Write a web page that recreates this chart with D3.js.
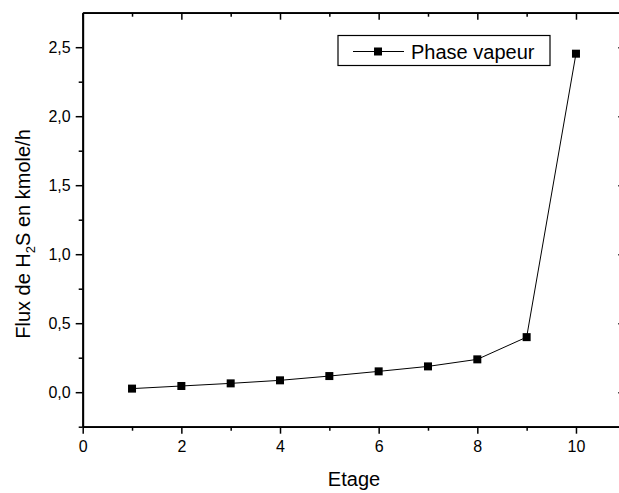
<!DOCTYPE html>
<html>
<head>
<meta charset="utf-8">
<script src="https://cdn.jsdelivr.net/npm/d3@7"></script>
<style>
  html, body { margin: 0; padding: 0; background: #fff; }
  svg { display: block; }
  text { font-family: Arial, "Liberation Sans", sans-serif; fill: #000; }
</style>
</head>
<body>
<svg id="chart" width="619" height="493"></svg>
<script>
// Data
const etage = [1, 2, 3, 4, 5, 6, 7, 8, 9, 10];
const flux = [0.026, 0.045, 0.064, 0.086, 0.117, 0.151, 0.187, 0.238, 0.399, 2.453];
const xTicks = [0, 2, 4, 6, 8, 10];
const xMinor = [1, 3, 5, 7, 9, 11];
const yTicks = [0, 0.5, 1.0, 1.5, 2.0, 2.5];
const yMinor = [-0.25, 0.25, 0.75, 1.25, 1.75, 2.25];
const seriesName = "Phase vapeur";
const xTitle = "Etage";

const svg = d3.select("#chart");
const L = 82.7, R = 625.3, T = 12.7, B = 426.7;
const x = d3.scaleLinear().domain([0, 11]).range([L, R]);
const y = d3.scaleLinear().domain([-0.25, 2.75]).range([B, T]);
const fmt = d => d3.format(".1f")(d).replace(".", ",");

const g = svg.append("g");
const axW = 1.8;
const tickFont = 16;

function styleAxis(sel) {
  sel.select(".domain").attr("stroke", "#000").attr("stroke-width", axW);
  sel.selectAll(".tick line").attr("stroke", "#000").attr("stroke-width", 1.5);
}

// bottom axis (major, outward)
g.append("g").attr("transform", `translate(0,${B})`)
  .call(d3.axisBottom(x).tickValues(xTicks).tickFormat(d3.format("d")).tickSizeInner(7).tickSizeOuter(0).tickPadding(7))
  .call(styleAxis)
  .call(s => s.selectAll("text").attr("font-size", tickFont).attr("font-family", "Arial, 'Liberation Sans', sans-serif"));
g.append("g").attr("transform", `translate(0,${B})`)
  .call(d3.axisBottom(x).tickValues(xMinor).tickFormat("").tickSizeInner(4).tickSizeOuter(0))
  .call(styleAxis);

// top axis (inward)
g.append("g").attr("transform", `translate(0,${T})`)
  .call(d3.axisBottom(x).tickValues(xTicks).tickFormat("").tickSizeInner(7).tickSizeOuter(0))
  .call(styleAxis);
g.append("g").attr("transform", `translate(0,${T})`)
  .call(d3.axisBottom(x).tickValues(xMinor).tickFormat("").tickSizeInner(4).tickSizeOuter(0))
  .call(styleAxis);

// left axis (outward)
g.append("g").attr("transform", `translate(${L},0)`)
  .call(d3.axisLeft(y).tickValues(yTicks).tickFormat(fmt).tickSizeInner(7).tickSizeOuter(0).tickPadding(5))
  .call(styleAxis)
  .call(s => s.selectAll("text").attr("font-size", tickFont).attr("font-family", "Arial, 'Liberation Sans', sans-serif"));
g.append("g").attr("transform", `translate(${L},0)`)
  .call(d3.axisLeft(y).tickValues(yMinor).tickFormat("").tickSizeInner(4).tickSizeOuter(0))
  .call(styleAxis);

// right axis (inward)
g.append("g").attr("transform", `translate(${R},0)`)
  .call(d3.axisLeft(y).tickValues(yTicks).tickFormat("").tickSizeInner(7).tickSizeOuter(0))
  .call(styleAxis);
g.append("g").attr("transform", `translate(${R},0)`)
  .call(d3.axisLeft(y).tickValues(yMinor).tickFormat("").tickSizeInner(4).tickSizeOuter(0))
  .call(styleAxis);

// Line
const pts = etage.map((e, i) => [e, flux[i]]);
g.append("path")
  .datum(pts)
  .attr("fill", "none")
  .attr("stroke", "#000")
  .attr("stroke-width", 1)
  .attr("d", d3.line().x(d => x(d[0])).y(d => y(d[1])));

const ms = 8;
g.selectAll("rect.pt").data(pts).enter().append("rect")
  .attr("class", "pt")
  .attr("x", d => x(d[0]) - ms / 2)
  .attr("y", d => y(d[1]) - ms / 2)
  .attr("width", ms).attr("height", ms)
  .attr("fill", "#000");

// Axis titles
svg.append("text")
  .attr("x", (L + R) / 2).attr("y", 486)
  .attr("text-anchor", "middle")
  .attr("font-size", 20)
  .text(xTitle);

const yt = svg.append("text")
  .attr("transform", "translate(30,234) rotate(-90)")
  .attr("text-anchor", "middle")
  .attr("font-size", 20);
yt.append("tspan").text("Flux de H");
yt.append("tspan").attr("font-size", 13).attr("dy", 5).text("2");
yt.append("tspan").attr("dy", -5).text("S en kmole/h");

// Legend
const lg = svg.append("g");
lg.append("rect")
  .attr("x", 338).attr("y", 35.5).attr("width", 212).attr("height", 30)
  .attr("fill", "#fff").attr("stroke", "#000").attr("stroke-width", 1.2);
lg.append("line")
  .attr("x1", 353).attr("x2", 404).attr("y1", 51.5).attr("y2", 51.5)
  .attr("stroke", "#000").attr("stroke-width", 1);
lg.append("rect")
  .attr("x", 378 - ms / 2).attr("y", 51.5 - ms / 2).attr("width", ms).attr("height", ms)
  .attr("fill", "#000");
lg.append("text")
  .attr("x", 411).attr("y", 59)
  .attr("font-size", 20)
  .text(seriesName);
</script>
</body>
</html>
